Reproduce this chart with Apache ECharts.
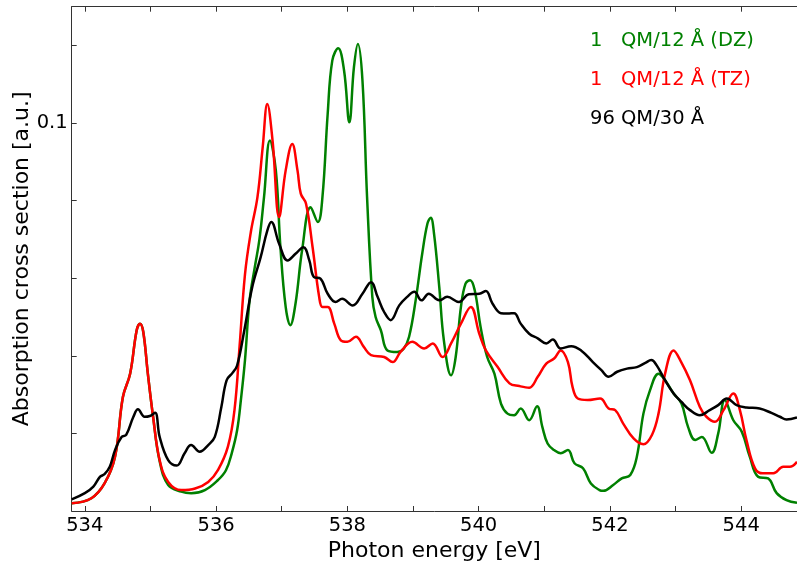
<!DOCTYPE html>
<html>
<head>
<meta charset="utf-8">
<script src="https://cdn.jsdelivr.net/npm/echarts@6/dist/echarts.min.js"></script>
<style>
  html, body { margin: 0; padding: 0; background: #fff; }
  #chart { width: 797px; height: 564px; }
</style>
</head>
<body>
<div id="chart"></div>
<script>
// Spectra: [photon energy (eV), cross section (a.u.)]
const xTicks = [534, 535, 536, 537, 538, 539, 540, 541, 542, 543, 544];
const xLabels = [534, 536, 538, 540, 542, 544];
const yTicks = [0.02, 0.04, 0.06, 0.08, 0.1, 0.12];
const yLabels = [0.1];

const seriesNames = ['1   QM/12 Å (DZ)', '1   QM/12 Å (TZ)', '96 QM/30 Å'];

const dzData = [
  [533.80,0.0020],[534.10,0.0033],[534.30,0.0071],[534.46,0.0140],[534.58,0.0294],[534.69,0.0354],
  [534.79,0.0466],[534.84,0.0483],[534.89,0.0462],[534.96,0.0354],[535.04,0.0243],[535.14,0.0128],
  [535.27,0.0067],[535.47,0.0050],[535.62,0.0046],[535.83,0.0054],[536.03,0.0080],[536.15,0.0105],
  [536.24,0.0150],[536.32,0.0208],[536.38,0.0290],[536.44,0.0389],[536.51,0.0543],[536.59,0.0629],
  [536.66,0.0700],[536.73,0.0809],[536.82,0.0955],[536.91,0.0878],[536.98,0.0680],[537.06,0.0526],
  [537.13,0.0479],[537.21,0.0535],[537.31,0.0672],[537.44,0.0783],[537.55,0.0745],[537.62,0.0809],
  [537.70,0.1024],[537.77,0.1161],[537.86,0.1193],[537.95,0.1135],[538.03,0.1002],[538.10,0.1144],
  [538.16,0.1204],[538.23,0.1109],[538.30,0.0809],[538.38,0.0552],[538.43,0.0500],[538.51,0.0466],
  [538.61,0.0414],[538.76,0.0410],[538.86,0.0419],[538.94,0.0449],[539.04,0.0543],[539.14,0.0663],
  [539.22,0.0741],[539.27,0.0756],[539.32,0.0715],[539.40,0.0577],[539.47,0.0440],[539.58,0.0350],
  [539.65,0.0397],[539.73,0.0526],[539.80,0.0586],[539.87,0.0595],[539.94,0.0569],[540.03,0.0474],
  [540.13,0.0397],[540.24,0.0354],[540.34,0.0277],[540.44,0.0251],[540.54,0.0247],[540.64,0.0264],
  [540.77,0.0234],[540.89,0.0270],[540.97,0.0217],[541.05,0.0174],[541.15,0.0157],[541.25,0.0149],
  [541.36,0.0157],[541.46,0.0123],[541.59,0.0110],[541.71,0.0071],[541.84,0.0054],[541.90,0.0052],
  [542.05,0.0067],[542.18,0.0084],[542.31,0.0093],[542.41,0.0140],[542.51,0.0251],[542.61,0.0311],
  [542.74,0.0354],[542.84,0.0337],[542.97,0.0303],[543.09,0.0277],[543.19,0.0217],[543.30,0.0183],
  [543.40,0.0191],[543.55,0.0150],[543.65,0.0200],[543.75,0.0286],[543.88,0.0234],[544.01,0.0204],
  [544.13,0.0140],[544.26,0.0088],[544.41,0.0084],[544.54,0.0046],[544.69,0.0028],[544.85,0.0021]
];

const tzData = [
  [533.80,0.0020],[534.10,0.0033],[534.30,0.0071],[534.46,0.0140],[534.58,0.0294],[534.69,0.0354],
  [534.79,0.0466],[534.84,0.0483],[534.89,0.0462],[534.96,0.0354],[535.04,0.0243],[535.14,0.0131],
  [535.27,0.0075],[535.47,0.0054],[535.68,0.0058],[535.88,0.0075],[536.03,0.0106],[536.18,0.0166],
  [536.28,0.0260],[536.36,0.0430],[536.44,0.0610],[536.53,0.0720],[536.63,0.0809],[536.71,0.0938],
  [536.78,0.1049],[536.86,0.0955],[536.96,0.0758],[537.06,0.0878],[537.16,0.0946],[537.24,0.0878],
  [537.29,0.0818],[537.37,0.0792],[537.47,0.0680],[537.57,0.0552],[537.62,0.0526],[537.70,0.0526],
  [537.80,0.0483],[537.90,0.0440],[538.00,0.0436],[538.13,0.0449],[538.25,0.0423],[538.36,0.0402],
  [538.56,0.0397],[538.69,0.0384],[538.81,0.0410],[538.99,0.0436],[539.17,0.0419],[539.30,0.0432],
  [539.45,0.0397],[539.58,0.0432],[539.73,0.0483],[539.88,0.0526],[540.01,0.0457],[540.11,0.0414],
  [540.29,0.0371],[540.47,0.0329],[540.62,0.0322],[540.77,0.0318],[540.90,0.0346],[541.03,0.0380],
  [541.15,0.0393],[541.25,0.0414],[541.36,0.0384],[541.43,0.0320],[541.51,0.0290],[541.66,0.0286],
  [541.85,0.0290],[541.98,0.0264],[542.08,0.0260],[542.20,0.0226],[542.36,0.0187],[542.51,0.0172],
  [542.64,0.0196],[542.74,0.0251],[542.84,0.0354],[542.97,0.0414],[543.07,0.0389],[543.22,0.0337],
  [543.37,0.0268],[543.47,0.0243],[543.60,0.0230],[543.73,0.0260],[543.88,0.0303],[543.98,0.0260],
  [544.08,0.0183],[544.21,0.0110],[544.33,0.0097],[544.49,0.0097],[544.64,0.0114],[544.74,0.0114],
  [544.85,0.0127]
];

const qm96Data = [
  [533.80,0.0030],[534.00,0.0046],[534.13,0.0063],[534.23,0.0088],[534.30,0.0095],[534.38,0.0114],
  [534.46,0.0157],[534.56,0.0191],[534.63,0.0196],[534.74,0.0243],[534.81,0.0262],[534.91,0.0243],
  [534.99,0.0245],[535.07,0.0253],[535.14,0.0191],[535.27,0.0131],[535.40,0.0117],[535.52,0.0149],
  [535.62,0.0170],[535.75,0.0153],[535.88,0.0170],[535.98,0.0191],[536.08,0.0268],[536.16,0.0337],
  [536.25,0.0356],[536.32,0.0375],[536.43,0.0466],[536.55,0.0577],[536.68,0.0655],[536.78,0.0723],
  [536.84,0.0745],[536.96,0.0689],[537.09,0.0646],[537.21,0.0663],[537.33,0.0680],[537.42,0.0646],
  [537.49,0.0603],[537.59,0.0599],[537.70,0.0560],[537.82,0.0539],[537.92,0.0547],[538.08,0.0530],
  [538.23,0.0560],[538.36,0.0590],[538.46,0.0552],[538.56,0.0513],[538.66,0.0492],[538.79,0.0530],
  [538.91,0.0552],[539.02,0.0565],[539.13,0.0543],[539.24,0.0560],[539.40,0.0543],[539.52,0.0552],
  [539.70,0.0539],[539.85,0.0559],[540.01,0.0560],[540.11,0.0567],[540.21,0.0535],[540.34,0.0510],
  [540.44,0.0509],[540.54,0.0510],[540.64,0.0483],[540.77,0.0457],[540.90,0.0445],[541.03,0.0432],
  [541.13,0.0442],[541.25,0.0419],[541.41,0.0425],[541.56,0.0414],[541.74,0.0384],[541.87,0.0363],
  [541.98,0.0346],[542.11,0.0359],[542.26,0.0367],[542.41,0.0371],[542.54,0.0382],[542.63,0.0389],
  [542.71,0.0376],[542.84,0.0337],[542.97,0.0303],[543.09,0.0281],[543.22,0.0260],[543.37,0.0247],
  [543.52,0.0260],[543.65,0.0273],[543.78,0.0290],[543.93,0.0273],[544.08,0.0267],[544.28,0.0264],
  [544.46,0.0253],[544.59,0.0243],[544.69,0.0236],[544.85,0.0241]
];

const colors = ['#008000', '#ff0000', '#000000'];
const FONT = 'DejaVu Sans';

const chart = echarts.init(document.getElementById('chart'), null, { renderer: 'canvas' });

function line(name, data, color) {
  return {
    name: name,
    type: 'line',
    data: data,
    smooth: 0.4,
    showSymbol: false,
    symbol: 'none',
    lineStyle: { color: color, width: 2.5 },
    itemStyle: { color: color },
    animation: false
  };
}

const axisLineStyle = { show: true, lineStyle: { color: '#333', width: 1 } };

chart.setOption({
  backgroundColor: '#fff',
  animation: false,
  textStyle: { fontFamily: FONT },
  grid: { left: 71.7, right: 0, top: 6.7, bottom: 53, containLabel: false, outerBoundsMode: 'none' },
  legend: {
    orient: 'vertical',
    left: 580,
    top: 26,
    icon: 'none',
    itemWidth: 0,
    itemGap: 19,
    selectedMode: false,
    data: seriesNames.map((n, i) => ({ name: n, textStyle: { color: colors[i], fontSize: 19.5, fontFamily: FONT } }))
  },
  xAxis: [
    {
      type: 'value',
      min: 533.8,
      max: 544.85,
      name: 'Photon energy [eV]',
      nameLocation: 'middle',
      nameGap: 29,
      nameMoveOverlap: false,
      nameTextStyle: { fontSize: 22, color: '#000', fontFamily: FONT },
      axisLine: axisLineStyle,
      axisTick: { show: true, inside: true, length: 5, customValues: xTicks, lineStyle: { color: '#333' } },
      axisLabel: { show: true, customValues: xLabels, fontSize: 19.5, color: '#000', margin: 5, fontFamily: FONT },
      splitLine: { show: false }
    },
    {
      type: 'value',
      position: 'top',
      min: 533.8,
      max: 544.85,
      axisLine: axisLineStyle,
      axisTick: { show: true, inside: true, length: 5, customValues: xTicks, lineStyle: { color: '#333' } },
      axisLabel: { show: false },
      splitLine: { show: false }
    }
  ],
  yAxis: {
    type: 'value',
    min: 0,
    max: 0.13,
    name: 'Absorption cross section [a.u.]',
    nameLocation: 'middle',
    nameGap: 38,
    nameMoveOverlap: false,
    nameTextStyle: { fontSize: 22, color: '#000', fontFamily: FONT },
    axisLine: axisLineStyle,
    axisTick: { show: true, inside: true, length: 5, customValues: yTicks, lineStyle: { color: '#333' } },
    axisLabel: { show: true, customValues: yLabels, fontSize: 19.5, color: '#000', margin: 4, fontFamily: FONT },
    splitLine: { show: false }
  },
  series: [
    line(seriesNames[0], dzData, colors[0]),
    line(seriesNames[1], tzData, colors[1]),
    line(seriesNames[2], qm96Data, colors[2])
  ]
});
</script>
</body>
</html>
